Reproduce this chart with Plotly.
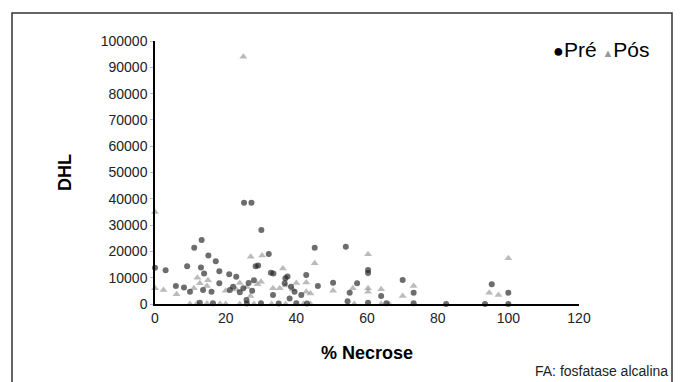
import plotly.graph_objects as go

# Pré (black circles)
pre_x = [0, 3, 9.1, 11.1, 13.2, 13, 13.9, 15.1, 17.2, 18.2, 21, 23, 25.2, 27.3, 30.1,
         32.2, 28.5, 29.2, 32.8, 33.5, 36.9, 37.5, 36.7, 42.8, 45.2, 46.1, 50.4, 54,
         57.2, 55.1, 60.3, 60.3, 64, 70.1, 73.2, 95.3, 100, 25.9, 38.1, 41.4, 21.2,
         22.1, 25, 9.9, 13.6, 16, 8.2, 5.9, 33.4, 39.5, 26.5, 27.5, 24, 28, 38.5, 18.2,
         12.7, 16.4, 26, 30, 35, 40, 43, 54.5, 60.3, 65.5, 73.2, 82.4, 93.4, 100]
pre_y = [13800, 12800, 14400, 21400, 24300, 13900, 11600, 18400, 16300, 12500, 11300,
         10400, 38500, 38500, 28100, 19000, 14400, 14600, 11900, 11600, 9800, 10500,
         7900, 11000, 21400, 6800, 8100, 21800, 7900, 4300, 12900, 11800, 3000, 9100,
         4300, 7500, 4300, 1500, 2100, 3400, 5300, 6600, 6000, 4700, 5300, 4700, 6300,
         6800, 3400, 4700, 8000, 5000, 4500, 9000, 6600, 7900, 500, 300, 200, 300, 200,
         300, 200, 1000, 500, 300, 300, 0, 0, 0]

# Pós (grey triangles)
pos_x = [25, 0, 27.1, 30.3, 45.2, 36.2, 42.8, 50.4, 60.3, 60.3, 60.3, 64, 70.1, 73.2,
         94.6, 97.2, 100, 12, 0, 2.4, 6.1, 12.7, 14.7, 33.4, 35.3, 42.8, 26, 29, 30, 24,
         23, 27, 37, 39, 40, 15, 11, 20, 9.9, 11.9, 14.7, 18.4, 20, 24, 28, 33, 37, 42,
         44, 56.4, 64, 66.3, 44, 56]
pos_y = [94000, 35000, 18000, 18400, 15500, 13500, 8200, 5000, 18900, 6000, 4700, 5600,
         3000, 6800, 4300, 3400, 17400, 10000, 6000, 5300, 3700, 7900, 6800, 6000, 6000,
         4700, 6500, 7500, 8500, 8000, 5500, 3000, 7000, 5500, 8000, 9000, 6000, 5000, 0,
         300, 200, 100, 0, 0, 0, 0, 0, 0, 0, 0, 0, 0, 4000, 6000]

y_ticks = [0, 10000, 20000, 30000, 40000, 50000, 60000, 70000, 80000, 90000, 100000]
x_ticks = [0, 20, 40, 60, 80, 100, 120]

FONT = "Liberation Sans"

fig = go.Figure()
fig.add_trace(go.Scatter(x=pos_x, y=pos_y, mode="markers", name="Pós",
                         marker=dict(symbol="triangle-up", size=7,
                                     color="rgba(120,120,120,0.5)"),
                         cliponaxis=False))
fig.add_trace(go.Scatter(x=pre_x, y=pre_y, mode="markers", name="Pré",
                         marker=dict(symbol="circle", size=6,
                                     color="rgba(30,30,30,0.65)"),
                         cliponaxis=False))

L, R, T, B = 155, 106, 41, 78
W, H = 685, 382
pw, ph = W - L - R, H - T - B

def px(xp):
    return (xp - L) / pw

def py(yp):
    return (H - B - yp) / ph

fig.update_layout(
    width=W, height=H,
    margin=dict(l=L, r=R, t=T, b=B),
    paper_bgcolor="white", plot_bgcolor="white",
    showlegend=False,
    font=dict(family=FONT, color="#222", size=14),
    xaxis=dict(range=[0, 120], tickvals=x_ticks, ticktext=[str(v) for v in x_ticks],
               showgrid=False, zeroline=False, showline=True, linecolor="black",
               linewidth=2, ticks="", tickfont=dict(size=14, color="#222"),
               title=dict(text="<b>% Necrose</b>", font=dict(size=18, color="black"),
                          standoff=22)),
    yaxis=dict(range=[0, 100000], tickvals=y_ticks, ticktext=[str(v) for v in y_ticks],
               showgrid=False, zeroline=False, showline=True, linecolor="black",
               linewidth=1.5, ticks="outside", ticklen=3, tickcolor="#bbb",
               tickfont=dict(size=14, color="#222"),
               title=dict(text="<b>DHL</b>", font=dict(size=18, color="black"),
                          standoff=24)),
    shapes=[dict(type="rect", xref="paper", yref="paper",
                 x0=px(12), x1=px(672), y0=py(395), y1=py(13),
                 line=dict(color="#333", width=1.5))],
    annotations=[
        dict(xref="paper", yref="paper", x=px(651), y=py(50), xanchor="right",
             yanchor="middle", showarrow=False,
             text="<span style='font-size:18px;color:black'>●</span>Pré "
                  "<span style='font-size:11px;color:#999'>▲</span>Pós",
             font=dict(size=21, color="black", family=FONT)),
        dict(xref="paper", yref="paper", x=px(670), y=py(371), xanchor="right",
             yanchor="middle", showarrow=False, text="FA: fosfatase alcalina",
             font=dict(size=14, color="#222", family=FONT)),
    ],
)

fig.write_html("out.html", config={"displayModeBar": False},
               post_script="document.body.style.margin='0';document.body.style.overflow='hidden';")
